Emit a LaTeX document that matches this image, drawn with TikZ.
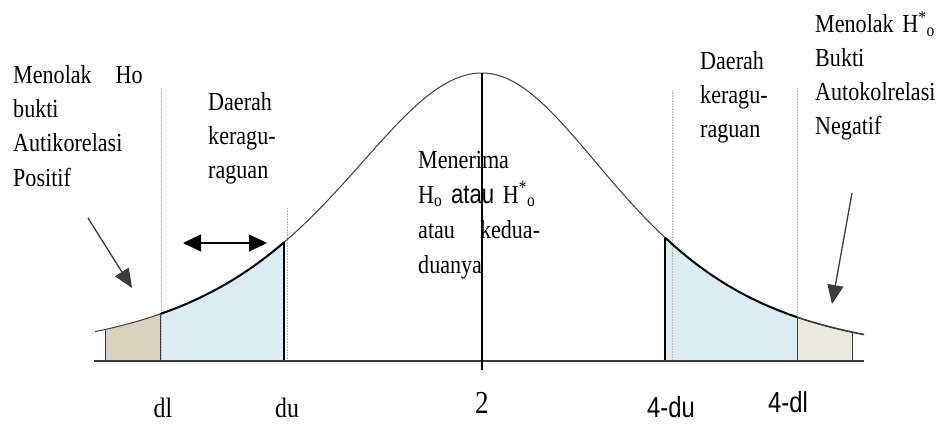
\documentclass[tikz,border=0pt]{standalone}
\usepackage{fontspec}
\setmainfont{Liberation Serif}[FakeStretch=0.85]
\setsansfont{Liberation Sans}[FakeStretch=0.82]
\usetikzlibrary{arrows.meta}
\definecolor{tanfill}{RGB}{216,210,190}
\definecolor{tanlight}{RGB}{236,233,222}
\definecolor{skyfill}{RGB}{219,236,243}
\definecolor{inkgrey}{RGB}{60,60,60}

\begin{document}
\begin{tikzpicture}[x=1pt,y=-1pt,
  declare function={fl(\t)=361-288/((1+((\t-482)/265)^2)^2);
                    fr(\t)=361-288/((1+((\t-482)/252)^2)^2);},
  lbl/.style={anchor=base west,inner sep=0pt,align=left,text width=140pt,
              font=\fontsize{26}{34}\selectfont},
  tick/.style={anchor=base,inner sep=0pt,font=\fontsize{28}{28}\selectfont},
  guide/.style={densely dotted,draw=gray!60,line width=0.6pt},
  thin/.style={draw=inkgrey,line width=1pt},
  edge/.style={draw=black,line width=2pt},
  ar/.style={-{Triangle[length=19pt,width=16pt]},draw=inkgrey,line width=1.3pt}]

\useasboundingbox (0,0) rectangle (942,428);

% shaded tails
\fill[tanfill] (105,361) -- plot[domain=105:160,samples=20] (\x,{fl(\x)}) -- (160,361) -- cycle;
\fill[skyfill] (160,361) -- plot[domain=160:284,samples=40] (\x,{fl(\x)}) -- (284,361) -- cycle;
\fill[skyfill] (665,361) -- plot[domain=665:797,samples=40] (\x,{fr(\x)}) -- (797,361) -- cycle;
\fill[tanlight] (797,361) -- plot[domain=797:852,samples=20] (\x,{fr(\x)}) -- (852,361) -- cycle;

% guides
\draw[guide] (161,88) -- (161,361);
\draw[guide] (287,208) -- (287,361);
\draw[guide] (672,90) -- (672,361);
\draw[guide] (797,88) -- (797,361);

% curve
\draw[thin] plot[domain=95:482,samples=120] (\x,{fl(\x)});
\draw[thin] plot[domain=482:864,samples=120] (\x,{fr(\x)});
\draw[edge] plot[domain=160:284,samples=40] (\x,{fl(\x)});
\draw[edge] plot[domain=665:797,samples=40] (\x,{fr(\x)});
\draw[thin,line width=1.6pt] plot[domain=797:864,samples=20] (\x,{fr(\x)});

% region edges
\draw[thin] (105,{fl(105)}) -- (105,361);
\draw[thin] (160,{fl(160)}) -- (160,361);
\draw[edge,line width=1.5pt] (284,{fl(284)}) -- (284,361);
\draw[edge] (665,{fr(665)}) -- (665,361) -- (797,361);
\draw[thin] (797,{fr(797)}) -- (797,361);
\draw[thin] (852,{fr(852)}) -- (852,361);

% axis and centre
\draw[draw=inkgrey,line width=1.6pt] (94,361) -- (864,361);
\draw[draw=black,line width=1.2pt] (482,73) -- (482,370);

% labels
\node[lbl] (rejpos) at (13,84) {Menolak\hspace{24pt}Ho\\bukti\\Autikorelasi\\Positif};
\node[lbl] (raguL) at (208,110) {Daerah\\keragu-\\raguan};
\node[lbl,font=\fontsize{26}{35}\selectfont] (terima) at (418,168)
  {Menerima\\
   H\textsubscript{o} {\sffamily\fontsize{27}{35}\selectfont atau} H\textsuperscript{*}\textsubscript{o}\\
   atau\hspace{25pt}kedua-\\
   duanya};
\node[lbl] (raguR) at (700,70) {Daerah\\keragu-\\raguan};
\node[lbl] (rejneg) at (815,33) {Menolak H\textsuperscript{*}\textsubscript{o}\\Bukti\\Autokolrelasi\\Negatif};

\node[tick] (tdl) at (163,417) {dl};
\node[tick] (tdu) at (287,417) {du};
\node[tick,font=\fontsize{32}{32}\selectfont] (ttwo) at (482,413) {2};
\node[tick,font=\sffamily\fontsize{29}{29}\selectfont] (tfourdu) at (671,417) {4-du};
\node[tick,font=\sffamily\fontsize{29}{29}\selectfont] (tfourdl) at (788,412) {4-dl};

% arrows
\coordinate (lfrom) at (88,218);
\coordinate (lto) at (132,288);
\coordinate (rfrom) at (852,193);
\coordinate (rto) at (832,304);
\coordinate (wleft) at (183,243);
\coordinate (wright) at (267,243);
\draw[ar] (lfrom) -- (lto);
\draw[ar] (rfrom) -- (rto);
\draw[ar,{Triangle[length=18pt,width=17pt]}-{Triangle[length=18pt,width=17pt]},draw=black] (wleft) -- (wright);
\end{tikzpicture}
\end{document}
